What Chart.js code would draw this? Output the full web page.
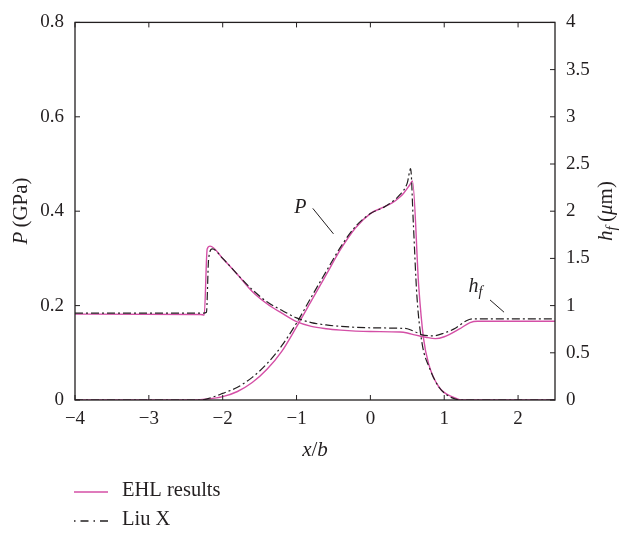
<!DOCTYPE html>
<html>
<head>
<meta charset="utf-8">
<script src="https://cdn.jsdelivr.net/npm/chart.js@4.4.1/dist/chart.umd.min.js"></script>
<style>
  html, body { margin: 0; padding: 0; background: #fff; }
</style>
</head>
<body>
<canvas id="pressureFilmChart" width="619" height="535"></canvas>
<script>
// EHL results (pink)
var ehlPx = [-4, -2.4, -2.2, -2.0, -1.8, -1.6, -1.4, -1.2, -1.0, -0.8, -0.6, -0.4, -0.2, 0, 0.2, 0.3, 0.4, 0.45, 0.53, 0.57, 0.655, 0.72, 0.79, 0.93, 1.12, 1.25, 2.5];
var ehlP  = [0, 0, 0.002, 0.007, 0.018, 0.037, 0.065, 0.103, 0.155, 0.21, 0.265, 0.32, 0.365, 0.395, 0.41, 0.418, 0.43, 0.438, 0.455, 0.464, 0.24, 0.13, 0.076, 0.027, 0.006, 0, 0];
var ehlHx = [-4, -2.3, -2.25, -2.21, -2.17, -2.0, -1.8, -1.6, -1.4, -1.2, -1.0, -0.8, -0.6, -0.4, -0.2, 0, 0.4, 0.5, 0.6, 0.75, 0.88, 1.0, 1.2, 1.35, 1.45, 2.5];
var ehlH  = [0.91, 0.905, 0.9, 1.6, 1.63, 1.5, 1.33, 1.15, 1.02, 0.92, 0.83, 0.78, 0.755, 0.74, 0.73, 0.725, 0.72, 0.71, 0.69, 0.665, 0.65, 0.67, 0.75, 0.82, 0.835, 0.835];

// Liu X (dash-dot)
var liuPx = [-4, -2.3, -2.1, -2.0, -1.8, -1.6, -1.4, -1.2, -1.0, -0.8, -0.6, -0.4, -0.2, 0, 0.2, 0.4, 0.5, 0.545, 0.58, 0.63, 0.7, 0.8, 0.93, 1.1, 1.25, 2.5];
var liuP  = [0, 0, 0.008, 0.014, 0.027, 0.048, 0.077, 0.115, 0.163, 0.218, 0.272, 0.325, 0.368, 0.395, 0.41, 0.435, 0.46, 0.49, 0.38, 0.22, 0.12, 0.068, 0.027, 0.005, 0, 0];
var liuHx = [-4, -2.26, -2.22, -2.19, -2.14, -2.0, -1.8, -1.6, -1.4, -1.2, -1.0, -0.8, -0.6, -0.4, -0.2, 0, 0.4, 0.5, 0.6, 0.7, 0.85, 1.0, 1.15, 1.3, 1.4, 2.5];
var liuH  = [0.92, 0.92, 0.93, 1.5, 1.6, 1.5, 1.33, 1.17, 1.04, 0.95, 0.87, 0.82, 0.795, 0.78, 0.77, 0.765, 0.76, 0.755, 0.725, 0.69, 0.68, 0.71, 0.76, 0.84, 0.86, 0.86];

var xTicks = [-4, -3, -2, -1, 0, 1, 2];
var pTicks = [0, 0.2, 0.4, 0.6, 0.8];
var hTicks = [0, 0.5, 1, 1.5, 2, 2.5, 3, 3.5, 4];

var pink = '#d44fa6';
var ink = '#231f20';
var serif = '"Liberation Serif", "Times New Roman", serif';

function pts(xs, ys) {
  return xs.map(function (x, i) { return { x: x, y: ys[i] }; });
}

// text runs with italic / subscript pieces
function richWidth(ctx, parts, size) {
  var w = 0;
  parts.forEach(function (p) {
    ctx.font = (p.it ? 'italic ' : '') + (p.sub ? size * 0.72 : size) + 'px ' + serif;
    w += ctx.measureText(p.t).width;
  });
  return w;
}
function drawRich(ctx, parts, x, y, size) {
  parts.forEach(function (p) {
    ctx.font = (p.it ? 'italic ' : '') + (p.sub ? size * 0.72 : size) + 'px ' + serif;
    ctx.fillText(p.t, x, p.sub ? y + size * 0.28 : y);
    x += ctx.measureText(p.t).width;
  });
}

var framePlugin = {
  id: 'frame',
  afterDraw: function (chart) {
    var ctx = chart.ctx, a = chart.chartArea;
    var sx = chart.scales.x, sp = chart.scales.y, sh = chart.scales.y1;
    ctx.save();
    ctx.strokeStyle = ink;
    ctx.fillStyle = ink;
    ctx.lineWidth = 1.3;
    ctx.strokeRect(a.left, a.top, a.right - a.left, a.bottom - a.top);

    // inward ticks
    ctx.lineWidth = 1;
    ctx.beginPath();
    xTicks.forEach(function (v) {
      var px = sx.getPixelForValue(v);
      ctx.moveTo(px, a.bottom); ctx.lineTo(px, a.bottom - 5);
      ctx.moveTo(px, a.top); ctx.lineTo(px, a.top + 5);
    });
    pTicks.forEach(function (v) {
      var py = sp.getPixelForValue(v);
      ctx.moveTo(a.left, py); ctx.lineTo(a.left + 5, py);
    });
    hTicks.forEach(function (v) {
      var py = sh.getPixelForValue(v);
      ctx.moveTo(a.right, py); ctx.lineTo(a.right - 5, py);
    });
    ctx.stroke();

    ctx.textBaseline = 'middle';
    var size = 21;

    // x axis title
    var xt = [{ t: 'x', it: true }, { t: '/' }, { t: 'b', it: true }];
    drawRich(ctx, xt, 315 - richWidth(ctx, xt, size) / 2, 450, size);

    // left title
    var lt = [{ t: 'P', it: true }, { t: '\u2009(GPa)' }];
    ctx.save();
    ctx.translate(21, 211);
    ctx.rotate(-Math.PI / 2);
    drawRich(ctx, lt, -richWidth(ctx, lt, size) / 2, 0, size);
    ctx.restore();

    // right title
    var rt = [{ t: 'h', it: true }, { t: 'f', it: true, sub: true }, { t: '\u2009(' }, { t: 'μ', it: true }, { t: 'm)' }];
    ctx.save();
    ctx.translate(606, 211);
    ctx.rotate(-Math.PI / 2);
    drawRich(ctx, rt, -richWidth(ctx, rt, size) / 2, 0, size);
    ctx.restore();

    // curve labels with leader lines
    drawRich(ctx, [{ t: 'P', it: true }], sx.getPixelForValue(-1.03), sp.getPixelForValue(0.408), 20);
    drawRich(ctx, [{ t: 'h', it: true }, { t: 'f', it: true, sub: true }], sx.getPixelForValue(1.33), sh.getPixelForValue(1.2), 20);
    ctx.beginPath();
    ctx.moveTo(sx.getPixelForValue(-0.78), sp.getPixelForValue(0.406));
    ctx.lineTo(sx.getPixelForValue(-0.5), sp.getPixelForValue(0.352));
    ctx.moveTo(sx.getPixelForValue(1.62), sh.getPixelForValue(1.06));
    ctx.lineTo(sx.getPixelForValue(1.81), sh.getPixelForValue(0.93));
    ctx.stroke();

    // legend
    ctx.lineWidth = 1.3;
    ctx.strokeStyle = pink;
    ctx.beginPath();
    ctx.moveTo(74, 492); ctx.lineTo(108, 492);
    ctx.stroke();
    ctx.strokeStyle = ink;
    ctx.setLineDash([1.5, 5, 8, 5]);
    ctx.beginPath();
    ctx.moveTo(74, 521); ctx.lineTo(108, 521);
    ctx.stroke();
    ctx.setLineDash([]);
    ctx.font = '20.5px ' + serif;
    ctx.fillText('EHL results', 122, 491);
    ctx.fillText('Liu X', 122, 520);
    ctx.restore();
  }
};

function minusSign(v) {
  return String(v).replace('-', '\u2212');
}

var chart = new Chart(document.getElementById('pressureFilmChart'), {
  type: 'line',
  data: {
    datasets: [{
      label: 'Liu X',
      data: pts(liuPx, liuP),
      yAxisID: 'y',
      borderColor: ink,
      borderWidth: 1.2,
      borderDash: [8, 3, 2, 3],
      pointRadius: 0,
      cubicInterpolationMode: 'monotone'
    }, {
      label: 'Liu X',
      data: pts(liuHx, liuH),
      yAxisID: 'y1',
      borderColor: ink,
      borderWidth: 1.2,
      borderDash: [8, 3, 2, 3],
      pointRadius: 0,
      cubicInterpolationMode: 'monotone'
    }, {
      label: 'EHL results',
      data: pts(ehlPx, ehlP),
      yAxisID: 'y',
      borderColor: pink,
      borderWidth: 1.4,
      pointRadius: 0,
      cubicInterpolationMode: 'monotone'
    }, {
      label: 'EHL results',
      data: pts(ehlHx, ehlH),
      yAxisID: 'y1',
      borderColor: pink,
      borderWidth: 1.4,
      pointRadius: 0,
      cubicInterpolationMode: 'monotone'
    }]
  },
  options: {
    responsive: false,
    animation: false,
    layout: { padding: { top: 12, left: 0, right: 0, bottom: 0 } },
    plugins: {
      legend: { display: false },
      tooltip: { enabled: false }
    },
    scales: {
      x: {
        type: 'linear',
        min: -4,
        max: 2.5,
        grid: { display: false, drawTicks: false },
        border: { display: false },
        afterBuildTicks: function (s) { s.ticks = xTicks.map(function (v) { return { value: v }; }); },
        afterFit: function (s) { s.height = 135; },
        ticks: {
          color: ink,
          padding: 8,
          maxRotation: 0,
          font: { family: serif, size: 19 },
          callback: function (v) { return minusSign(v); }
        }
      },
      y: {
        position: 'left',
        min: 0,
        max: 0.8,
        grid: { display: false, drawTicks: false },
        border: { display: false },
        afterBuildTicks: function (s) { s.ticks = pTicks.map(function (v) { return { value: v }; }); },
        afterFit: function (s) { s.width = 75; },
        ticks: {
          color: ink,
          padding: 11,
          font: { family: serif, size: 19 },
          callback: function (v) { return v === 0 ? '0' : v.toFixed(1); }
        }
      },
      y1: {
        position: 'right',
        min: 0,
        max: 4,
        grid: { display: false, drawTicks: false },
        border: { display: false },
        afterBuildTicks: function (s) { s.ticks = hTicks.map(function (v) { return { value: v }; }); },
        afterFit: function (s) { s.width = 64; },
        ticks: {
          color: ink,
          padding: 11,
          font: { family: serif, size: 19 },
          callback: function (v) { return String(v); }
        }
      }
    }
  },
  plugins: [framePlugin]
});
</script>
</body>
</html>
